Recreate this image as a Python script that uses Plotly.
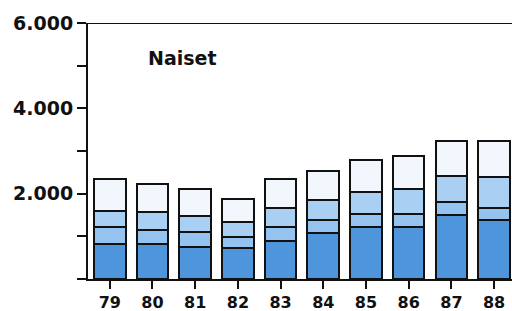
import plotly.graph_objects as go

years = ["79", "80", "81", "82", "83", "84", "85", "86", "87", "88"]
seg1 = [815, 815, 745, 735, 900, 1075, 1215, 1215, 1495, 1390]
seg2 = [405, 335, 350, 260, 315, 305, 305, 320, 315, 275]
seg3 = [375, 415, 390, 350, 445, 470, 530, 565, 615, 735]
seg4 = [745, 660, 620, 540, 695, 685, 730, 790, 820, 830]
ytick_vals = [0, 2000, 4000, 6000]
ytick_text = ["", "2.000", "4.000", "6.000"]
title_text = "Naiset"

colors = ["#4f95dc", "#94c3ef", "#a9cff2", "#f1f7fd"]
FONT = "DejaVu Sans"

fig = go.Figure()
for vals, col in zip([seg1, seg2, seg3, seg4], colors):
    fig.add_trace(go.Bar(
        x=years, y=vals, marker=dict(color=col, line=dict(color="#111111", width=2)),
        width=0.74, showlegend=False,
    ))

fig.update_layout(
    barmode="stack",
    width=512, height=311,
    margin=dict(l=88, r=0, t=23, b=32, pad=0),
    paper_bgcolor="white", plot_bgcolor="white",
    font=dict(family=FONT, color="#111111"),
    xaxis=dict(
        range=[-0.51, 9.42], showgrid=False, zeroline=False, automargin=False,
        showline=True, linecolor="#111111", linewidth=2, mirror=False,
        ticks="outside", ticklen=8, tickwidth=2, tickcolor="#111111",
        tickfont=dict(size=16, family=FONT, weight="bold"),
    ),
    yaxis=dict(
        range=[0, 6000], showgrid=False, zeroline=False, automargin=False,
        showline=True, linecolor="#111111", linewidth=2, mirror=False,
        tickvals=ytick_vals, ticktext=ytick_text,
        ticks="outside", ticklen=9, tickwidth=2, tickcolor="#111111",
        tickfont=dict(size=19, family=FONT, weight="bold"),
        minor=dict(dtick=1000, ticks="outside", ticklen=9, tickwidth=2, tickcolor="#111111"),
    ),
    annotations=[dict(
        text=title_text, x=0.224, y=0.865, xref="paper", yref="paper",
        xanchor="center", yanchor="middle",
        showarrow=False, font=dict(size=19, family=FONT, weight="bold", color="#111111"),
    )],
    shapes=[
        dict(type="line", xref="paper", yref="y", x0=-0.02, x1=0, y0=0, y1=0,
             line=dict(color="#111111", width=2)),
        dict(type="line", xref="paper", yref="y", x0=0, x1=1, y0=6000, y1=6000,
             line=dict(color="#111111", width=2)),
    ],
)

fig.write_html("out.html", config={"displayModeBar": False},
               post_script="document.body.style.margin='0';document.body.style.overflow='hidden';")
